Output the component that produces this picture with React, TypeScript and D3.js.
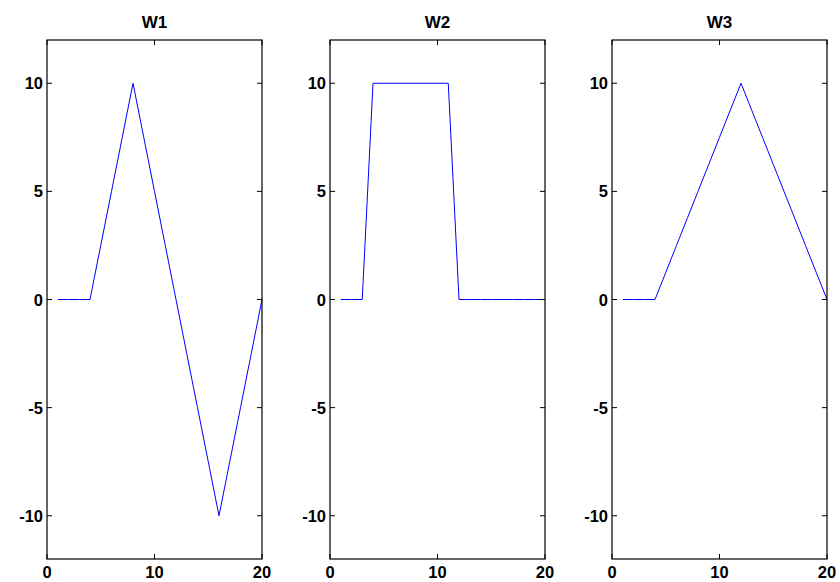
import React from "react";
import * as d3 from "d3";

const xs = d3.range(1, 21);
const titles = ["W1", "W2", "W3"];
const w1 = [0, 0, 0, 0, 2.5, 5, 7.5, 10, 7.5, 5, 2.5, 0, -2.5, -5, -7.5, -10, -7.5, -5, -2.5, 0];
const w2 = [0, 0, 0, 10, 10, 10, 10, 10, 10, 10, 10, 0, 0, 0, 0, 0, 0, 0, 0, 0];
const w3 = [0, 0, 0, 0, 1.25, 2.5, 3.75, 5, 6.25, 7.5, 8.75, 10, 8.75, 7.5, 6.25, 5, 3.75, 2.5, 1.25, 0];
const series = [w1, w2, w3];
const xTicks = [0, 10, 20];
const yTicks = [-10, -5, 0, 5, 10];

const width = 840;
const height = 582;
const panelLeft = [47, 330, 612];
const panelW = 215;
const top = 40;
const bottom = 559;
const font = "'Liberation Sans', Arial, Helvetica, sans-serif";

const Panel = props => {
    let {left, title, values} = props;
    let x = d3.scaleLinear().domain([0, 20]).range([left, left + panelW]);
    let y = d3.scaleLinear().domain([-12, 12]).range([bottom, top]);
    let line = d3.line().x(d => x(d[0])).y(d => y(d[1]));
    let pts = xs.map((v, i) => [v, values[i]]);
    const tk = 5;

    return (
        <g>
            <text x={x(10)} y={28} textAnchor="middle" fontFamily={font} fontWeight="bold" fontSize={17}>{title}</text>
            <path d={line(pts)} fill="none" stroke="#0000ff" strokeWidth={1}/>
            <rect x={left} y={top} width={panelW} height={bottom - top} fill="none" stroke="#000" strokeWidth={1.2}/>
            {yTicks.map(t => (
                <g key={"y" + t}>
                    <line x1={left} x2={left + tk} y1={y(t)} y2={y(t)} stroke="#000"/>
                    <line x1={left + panelW - tk} x2={left + panelW} y1={y(t)} y2={y(t)} stroke="#000"/>
                    <text x={left - 4} y={y(t) + 6} textAnchor="end" fontFamily={font} fontWeight="bold" fontSize={16.5}>{t}</text>
                </g>
            ))}
            {xTicks.map(t => (
                <g key={"x" + t}>
                    <line x1={x(t)} x2={x(t)} y1={bottom} y2={bottom - tk} stroke="#000"/>
                    <line x1={x(t)} x2={x(t)} y1={top} y2={top + tk} stroke="#000"/>
                    <text x={x(t)} y={578} textAnchor="middle" fontFamily={font} fontWeight="bold" fontSize={16.5}>{t}</text>
                </g>
            ))}
        </g>
    );
};

export default function App() {
    return (
        <svg width={width} height={height} style={{position: "absolute", left: 0, top: 0, background: "#fff"}}>
            {series.map((s, i) => (
                <Panel key={i} left={panelLeft[i]} title={titles[i]} values={s}/>
            ))}
        </svg>
    );
}
